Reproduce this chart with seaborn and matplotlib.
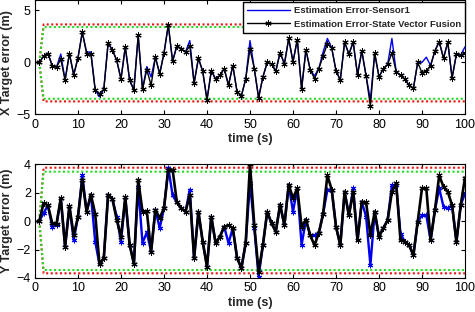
import matplotlib
matplotlib.use('Agg')
import numpy as np
import pandas as pd
import seaborn as sns
import matplotlib.pyplot as plt

# time axis (s)
time = list(range(1, 101))

# X target error (m)
x_sensor1 = [0, 0.6, 0.9, -0.3, -0.45, 0.8, -1.7, 0.85, -1.2, 0.45,
             2.9, 1.0, 1.0, -2.65, -3.3, -2.6, 1.85, 1.2, 0.2, -1.6,
             1.5, -1.7, -2.65, 2.6, -2.6, -0.4, -1.4, 0.5, -1.1, 0.9,
             3.6, 0.1, 1.6, 1.3, 1.0, 2.1, -2.0, 0.4, -0.85, -3.6,
             -0.8, -1.6, -1.25, -0.6, -2.2, -0.3, -2.85, -3.2, -1.6, 2.1,
             -0.6, -3.4, -1.4, 0.0, -0.15, -0.85, 0.95, -0.15, 2.3, 0.05,
             2.2, -2.55, 1.2, -0.7, -1.3, -0.6, 1.0, 2.3, 1.4, -0.8,
             -1.7, 1.95, 0.8, 1.95, -1.2, 1.1, -1.3, -3.6, 0.9, -1.4,
             -0.6, -0.2, 2.3, -0.9, -1.25, -1.6, -2.2, -2.5, 0.0, 0.0,
             0.5, -0.3, 1.1, 2.0, 0.4, 1.95, -1.5, 0.8, 0.7, 1.5]
x_fusion = [0, 0.6, 0.85, -0.3, -0.45, 0.3, -1.7, 0.85, -1.2, 0.45,
            2.9, 0.85, 0.8, -2.65, -3.0, -2.6, 1.85, 1.2, 0.2, -1.6,
            1.5, -1.7, -2.65, 2.6, -2.6, -0.7, -2.2, 0.5, -1.1, 0.9,
            3.6, 0.1, 1.6, 1.3, 1.0, 1.6, -2.0, 0.4, -0.85, -3.6,
            -0.8, -1.6, -1.25, -0.6, -2.2, -0.3, -2.85, -3.2, -1.6, 1.3,
            -0.6, -3.4, -1.4, 0.0, -0.15, -0.85, 0.95, -0.15, 2.3, 0.05,
            2.2, -2.55, 1.2, -0.7, -1.55, -0.6, 0.6, 1.8, 1.4, -0.8,
            -1.7, 1.95, 0.8, 1.95, -1.2, 1.1, -1.3, -4.2, 0.9, -1.4,
            -0.6, -0.2, 0.9, -0.9, -1.25, -1.6, -2.2, -2.5, 0.0, -1.0,
            -0.8, -0.3, 1.1, 2.0, 0.4, 1.95, -1.5, 0.8, 0.7, 0.9]

# Y target error (m)
y_sensor1 = [0, 0.55, 1.1, -0.4, -0.3, 1.6, -1.8, 1.05, -1.35, 0.3,
             3.2, 0.65, 1.85, -1.45, -3.05, -2.6, 1.85, 1.55, 0.3, -1.45,
             1.65, -1.65, -3.0, 2.4, -1.55, -0.8, -2.15, 0.8, -0.5, 0.9,
             3.75, 1.8, 1.3, 0.9, 0.65, 2.2, -2.6, 0.65, -1.45, -3.2,
             0.3, -1.55, -1.1, -0.4, -1.55, -0.5, -2.6, -3.3, -1.55, 2.7,
             -0.5, -3.9, -1.7, 0.65, -0.15, -0.75, 1.15, -0.3, 2.55, 0.65,
             2.3, -1.7, 0.1, -1.0, -1.0, -0.85, 0.5, 2.2, 2.2, -0.4,
             -1.7, 2.05, 0.4, 2.3, -1.35, 1.35, 0.3, -3.1, 0.65, -1.1,
             -0.5, 0.05, 2.5, 2.5, -0.9, -1.45, -1.7, -2.4, -0.05, 0.4,
             0.4, -1.35, 0.75, 2.3, 1.0, 0.9, 1.1, -1.45, 1.1, 1.95]
y_fusion = [0, 1.25, 1.1, -0.15, -0.2, 1.6, -1.8, 1.05, -1.0, 0.3,
            2.9, 0.65, 1.85, 0.5, -3.05, -2.6, 1.85, 1.55, 0.1, -1.1,
            1.65, -1.65, -3.0, 2.9, 0.65, 0.7, -2.15, 0.8, 0.2, 0.9,
            3.6, 3.6, 1.3, 0.9, 0.65, 1.8, -2.6, 0.65, -1.45, -3.2,
            0.3, -1.55, -1.1, -0.4, -0.3, -0.5, -2.6, -3.3, -1.55, 4.0,
            -0.3, -3.55, -1.7, 0.65, -0.15, -0.75, 1.15, -0.3, 2.55, 1.6,
            2.3, -0.4, 0.1, -1.0, -1.7, -0.85, 0.5, 3.2, 2.2, -0.4,
            -1.7, 2.05, 0.4, 2.05, -1.35, 1.35, 1.3, -1.0, 0.65, -1.1,
            -0.5, 0.05, 2.05, 2.65, -1.35, -1.45, -1.7, -2.4, -0.05, 2.3,
            2.3, -1.35, 0.75, 3.2, 2.4, 2.05, 1.1, -1.45, 1.1, 3.05]

# error bounds (approximately constant after t=1)
x_red = (3.65, -3.75)
x_green = (3.4, -3.5)
y_red = (3.74, -3.67)
y_green = (3.46, -3.44)

label_s1 = 'Estimation Error-Sensor1'
label_fu = 'Estimation Error-State Vector Fusion'

sns.set_style('ticks')
plt.rcParams['font.family'] = ['Liberation Sans', 'DejaVu Sans']
plt.rcParams['axes.edgecolor'] = 'black'
plt.rcParams['axes.linewidth'] = 0.8

fig = plt.figure(figsize=(4.75, 3.12), dpi=100)
ax1 = fig.add_axes([35/475, 1 - 114.4/312, 430/475, 114.4/312])
ax2 = fig.add_axes([35/475, 1 - 278/312, 430/475, 114/312])

star = (6, 2, 0)


def draw(ax, sensor, fusion, red, green, sensor_marker):
    for lvl in red:
        sns.lineplot(x=time, y=[0] + [lvl] * 99, ax=ax, color='#ee1111',
                     linestyle=(0, (1, 1.2)), linewidth=1.5)
    for lvl in green:
        sns.lineplot(x=time, y=[0] + [lvl] * 99, ax=ax, color='#22dd22',
                     linestyle=(0, (1, 1.2)), linewidth=1.5)
    sns.lineplot(x=time, y=sensor, ax=ax, color='#0000ee', linewidth=1.7,
                 marker=sensor_marker, markersize=4, markeredgecolor='#0000ee',
                 label=label_s1)
    sns.lineplot(x=time, y=fusion, ax=ax, color='black', linewidth=1.9,
                 marker=star, markersize=4.5, markeredgecolor='black',
                 label=label_fu)
    ax.set_xlim(0, 100)
    ax.set_xticks(range(0, 101, 10))
    ax.tick_params(direction='in', top=True, right=True, length=3,
                   labelsize=9, pad=3, colors='black')
    ax.set_xlabel('time (s)', fontsize=9, fontweight='bold', labelpad=2)


draw(ax1, x_sensor1, x_fusion, x_red, x_green, None)
ax1.set_ylim(-5, 6)
ax1.set_yticks([-5, 0, 5])
ax1.set_ylabel('X Target error (m)', fontsize=9, fontweight='bold')
ax1.yaxis.set_label_coords(-0.052, 0.455)

draw(ax2, y_sensor1, y_fusion, y_red, y_green, star)
ax2.set_ylim(-4, 4)
ax2.set_yticks([-4, -2, 0, 2, 4])
ax2.set_ylabel('Y Target error (m)', fontsize=9, fontweight='bold')
ax2.yaxis.set_label_coords(-0.052, 0.5)
ax2.get_legend().remove()

h, l = ax1.get_legend_handles_labels()
h[0].set_marker('None')
h[0].set_linewidth(1.0)
h[1].set_linewidth(1.0)
ax1.legend(h, l, loc='upper right', bbox_to_anchor=(1.0, 0.985),
           borderaxespad=0, prop={'weight': 'bold', 'size': 6.8},
           fancybox=False, edgecolor='black', framealpha=1,
           handlelength=4.6, handletextpad=0.35, labelspacing=0.5,
           borderpad=0.45)

fig.savefig('out.png', dpi=100)
